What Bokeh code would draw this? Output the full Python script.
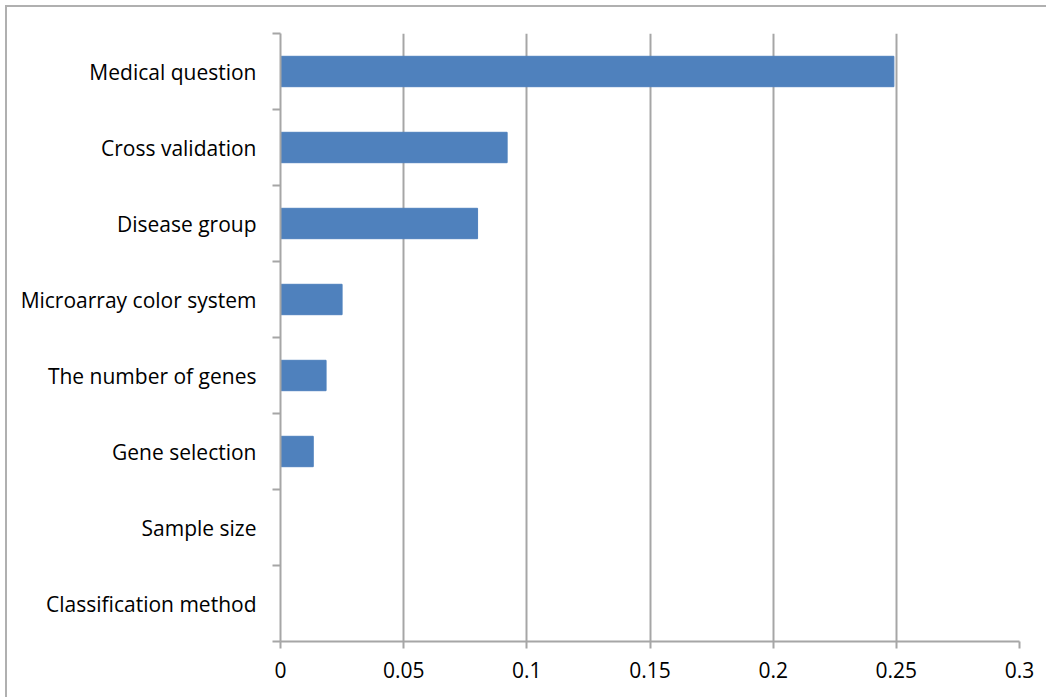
from bokeh.plotting import figure
from bokeh.models import Range1d, FixedTicker, ColumnDataSource
from bokeh.embed import file_html
from bokeh.resources import INLINE

categories = ["Medical question", "Cross validation", "Disease group",
              "Microarray color system", "The number of genes", "Gene selection",
              "Sample size", "Classification method"]
values = [0.249, 0.092, 0.080, 0.025, 0.0185, 0.0133, 0.0, 0.0]
x_ticks = [0, 0.05, 0.1, 0.15, 0.2, 0.25, 0.3]
x_tick_labels = ["0", "0.05", "0.1", "0.15", "0.2", "0.25", "0.3"]

n = len(categories)
ypos = [n - 0.5 - i for i in range(n)]
src = ColumnDataSource(dict(y=ypos, v=values, cat=categories))

FONT = "Open Sans"
GRID = "#a6a6a6"

p = figure(width=1041, height=692, output_backend="svg", toolbar_location=None,
           x_range=Range1d(0, 0.3), y_range=Range1d(0, n),
           min_border_left=273, min_border_top=26, min_border_right=29,
           min_border_bottom=58)
p.margin = (5, 0, 0, 5)
p.styles = {"border-left": "2px solid #b0b0b0", "border-top": "2px solid #b0b0b0"}
p.outline_line_color = None
p.background_fill_color = "white"
p.border_fill_color = "white"

p.hbar(y="y", right="v", left=0, height=0.4, source=src,
       fill_color="#4f81bd", line_color="#4f81bd")

# x axis
xa = p.xaxis[0]
xa.ticker = FixedTicker(ticks=x_ticks)
xa.major_label_overrides = {t: l for t, l in zip(x_ticks, x_tick_labels)}
xa.axis_line_color = GRID
xa.axis_line_width = 2
xa.major_tick_line_color = GRID
xa.major_tick_line_width = 2
xa.major_tick_out = 7
xa.major_tick_in = 0
xa.minor_tick_line_color = None
xa.major_label_text_font = FONT
xa.major_label_text_font_size = "21px"
xa.major_label_text_color = "#000000"
xa.major_label_standoff = 13

# y axis
ya = p.yaxis[0]
ya.ticker = FixedTicker(ticks=ypos, minor_ticks=list(range(n + 1)))
ya.major_label_overrides = {y: c for y, c in zip(ypos, categories)}
ya.axis_line_color = GRID
ya.axis_line_width = 2
ya.major_tick_line_color = None
ya.major_tick_out = 0
ya.major_tick_in = 0
ya.minor_tick_line_color = GRID
ya.minor_tick_line_width = 2
ya.minor_tick_out = 8
ya.minor_tick_in = 0
ya.major_label_text_font = FONT
ya.major_label_text_font_size = "21px"
ya.major_label_text_color = "#000000"
ya.major_label_standoff = 16

p.xgrid.ticker = FixedTicker(ticks=x_ticks)
p.xgrid.grid_line_color = GRID
p.xgrid.grid_line_width = 2
p.ygrid.grid_line_color = None

open("out.html", "w").write(file_html(p, INLINE))
